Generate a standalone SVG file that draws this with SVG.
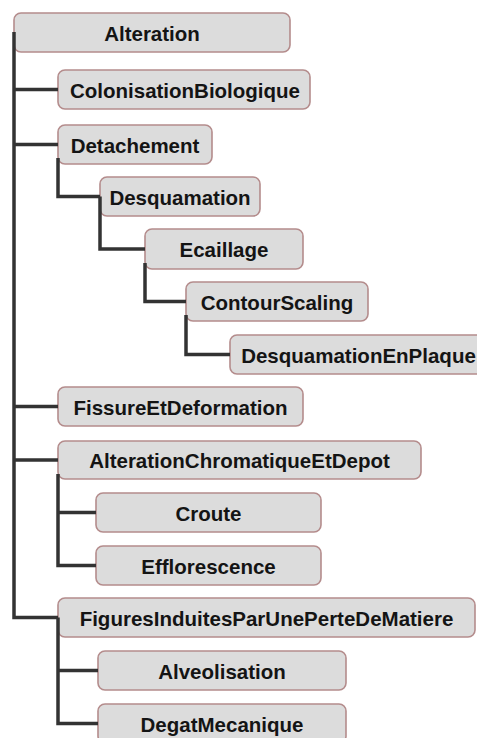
<svg xmlns="http://www.w3.org/2000/svg" width="477" height="738" viewBox="0 0 477 738">
<style>
.box{fill:#dcdcdc;stroke:#b48c8c;stroke-width:1.6}
.lbl{font-family:"Liberation Sans",Arial,sans-serif;font-weight:bold;font-size:20.5px;fill:#141414;text-anchor:middle}
.con{fill:none;stroke:#333;stroke-width:3.5;stroke-linejoin:miter}
</style>
<rect width="477" height="738" fill="#fff"/>
<g id="n-alteration"><rect class="box" x="14" y="13" width="276" height="39" rx="7"/><text class="lbl" x="152" y="41">Alteration</text></g>
<g id="n-colonisation"><rect class="box" x="58" y="70" width="252" height="39" rx="7"/><text class="lbl" x="185" y="98">ColonisationBiologique</text></g>
<g id="n-detachement"><rect class="box" x="58" y="125" width="154" height="39" rx="7"/><text class="lbl" x="135" y="153">Detachement</text></g>
<g id="n-desquamation"><rect class="box" x="100" y="177" width="160" height="39" rx="7"/><text class="lbl" x="180" y="205">Desquamation</text></g>
<g id="n-ecaillage"><rect class="box" x="145" y="229" width="158" height="40" rx="7"/><text class="lbl" x="224" y="257">Ecaillage</text></g>
<g id="n-contourscaling"><rect class="box" x="186" y="282" width="182" height="39" rx="7"/><text class="lbl" x="277" y="310">ContourScaling</text></g>
<g id="n-desquamationenplaque"><rect class="box" x="230" y="335" width="257" height="39" rx="7"/><text class="lbl" x="358.5" y="363">DesquamationEnPlaque</text></g>
<g id="n-fissure"><rect class="box" x="58" y="387" width="245" height="39" rx="7"/><text class="lbl" x="180.5" y="415">FissureEtDeformation</text></g>
<g id="n-chromatique"><rect class="box" x="58" y="441" width="363" height="38" rx="7"/><text class="lbl" x="239.5" y="468">AlterationChromatiqueEtDepot</text></g>
<g id="n-croute"><rect class="box" x="96" y="493" width="225" height="39" rx="7"/><text class="lbl" x="208.5" y="521">Croute</text></g>
<g id="n-efflorescence"><rect class="box" x="96" y="546" width="225" height="39" rx="7"/><text class="lbl" x="208.5" y="574">Efflorescence</text></g>
<g id="n-figures"><rect class="box" x="58" y="598" width="417" height="39" rx="7"/><text class="lbl" x="266.5" y="626">FiguresInduitesParUnePerteDeMatiere</text></g>
<g id="n-alveolisation"><rect class="box" x="98" y="651" width="248" height="39" rx="7"/><text class="lbl" x="222" y="679">Alveolisation</text></g>
<g id="n-degat"><rect class="box" x="98" y="704" width="248" height="39" rx="7"/><text class="lbl" x="222" y="732">DegatMecanique</text></g>
<g id="connectors">
<path class="con" d="M14 32 V617.5 H58"/>
<path class="con" d="M14 89.5 H58 M14 144.5 H58 M14 406.5 H58 M14 460 H58"/>
<path class="con" d="M58 158 V196.5 H100"/>
<path class="con" d="M100 196.5 V249 H145"/>
<path class="con" d="M145 263 V301.5 H186"/>
<path class="con" d="M186 315 V354.5 H230"/>
<path class="con" d="M58 474 V565.5 H96 M58 512.5 H96"/>
<path class="con" d="M58 617.5 V723.5 H98 M58 670.5 H98"/>
</g>
</svg>
